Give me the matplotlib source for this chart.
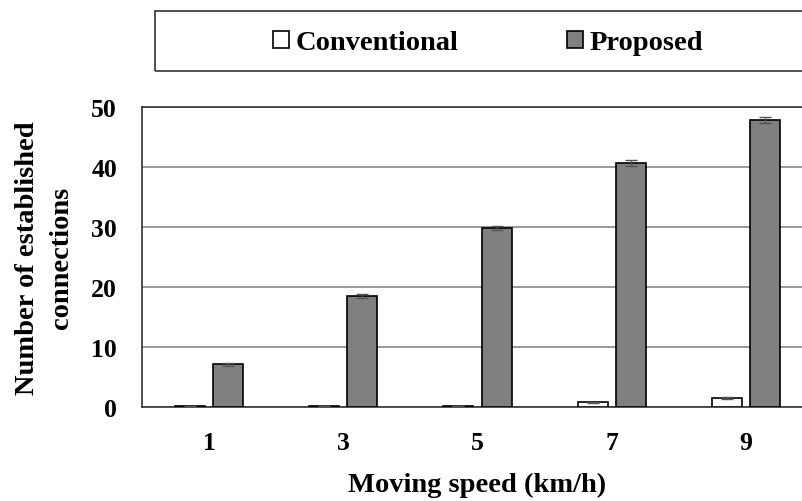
import numpy as np
import matplotlib
matplotlib.use("Agg")
import matplotlib.pyplot as plt
from matplotlib.patches import Rectangle

plt.rcParams['font.family'] = ['Liberation Serif', 'DejaVu Serif']
plt.rcParams['font.weight'] = 'bold'

speeds = ['1', '3', '5', '7', '9']
conventional = [0.1, 0.2, 0.2, 0.8, 1.5]
conventional_err = [0.05, 0.05, 0.05, 0.1, 0.15]
proposed = [7.1, 18.5, 29.8, 40.7, 47.9]
proposed_err = [0.3, 0.3, 0.3, 0.5, 0.5]

fig = plt.figure(figsize=(8.03, 5.02), dpi=100)
ax = fig.add_axes([142 / 803, 94 / 502, 671 / 803, 300 / 502])

x = np.arange(len(speeds))
w = 0.224
off = 0.142
err_kw = dict(ecolor='#555555', elinewidth=1, capsize=4, capthick=1)
b1 = ax.bar(x - off, conventional, w, yerr=conventional_err, color='white',
            edgecolor='black', linewidth=1.2, error_kw=err_kw, label='Conventional', zorder=3)
b2 = ax.bar(x + off, proposed, w, yerr=proposed_err, color='#808080',
            edgecolor='black', linewidth=1.2, error_kw=err_kw, label='Proposed', zorder=3)

ax.set_xlim(-0.5, len(speeds) - 0.5)
ax.set_ylim(0, 50)
ax.set_yticks([0, 10, 20, 30, 40, 50])
ax.set_xticks(x)
ax.set_xticklabels(speeds)
ax.tick_params(length=0, labelsize=18.5)
ax.tick_params(axis='x', pad=17)
ax.tick_params(axis='y', pad=18)
ax.yaxis.grid(True, color='#888888', linewidth=1.2, zorder=0)
for s in ax.spines.values():
    s.set_color('#333333')
    s.set_linewidth(1.2)

ax.set_xlabel('Moving speed (km/h)', fontsize=20.5, fontweight='bold', labelpad=13)
ax.set_ylabel('Number of established\nconnections', fontsize=20.5, fontweight='bold',
              labelpad=12, linespacing=1.5)

# boxed legend across the top
fig.add_artist(Rectangle((155 / 803, 1 - 72 / 502), 700 / 803, 60 / 502,
                         transform=fig.transFigure, fill=False, ec='#333333', lw=1.2))
fig.legend(handles=[b1, b2], loc='center', bbox_to_anchor=(488 / 803, 1 - 44 / 502),
           ncol=2, frameon=False, fontsize=20.5, handlelength=0.56, handleheight=0.56,
           handletextpad=0.25, columnspacing=3.8)

fig.savefig('out.png', dpi=100)
